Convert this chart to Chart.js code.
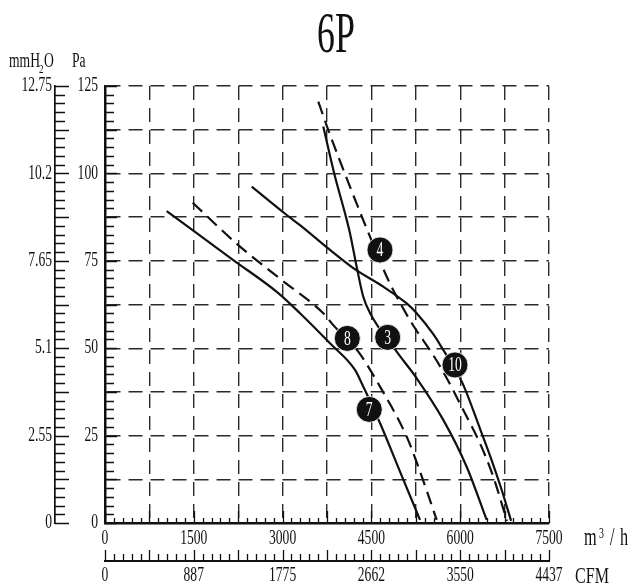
<!DOCTYPE html>
<html>
<head>
<meta charset="utf-8">
<title>6P</title>
<script src="https://cdn.jsdelivr.net/npm/chart.js@4.4.1/dist/chart.umd.min.js"></script>
<style>
    html, body { margin: 0; padding: 0; background: #fff; }
    #wrap { width: 631px; height: 588px; }
</style>
</head>
<body>
<div id="wrap"><canvas id="fanChart" width="631" height="588"></canvas></div>
<script>
var chartTitle = '6P';

// tick labels of the four rulers
var flowTicks = [0, 1500, 3000, 4500, 6000, 7500];        // m3/h
var cfmTicks = ['0', '887', '1775', '2662', '3550', '4437'];
var paTicks = [0, 25, 50, 75, 100, 125];
var mmTicks = ['0', '2.55', '5.1', '7.65', '10.2', '12.75'];

// fan curves (x = m3/h, y = Pa)
var curve7X = [1042, 2167, 2917, 3294, 3800, 4223, 4336, 4645, 4983, 5321];
var curve7Y = [89.2, 75.2, 65.9, 60.0, 51.4, 43.8, 40.0, 28.6, 14.7, 0.9];

var curve8X = [1481, 2251, 2984, 3687, 3856, 4278, 4645, 5096, 5292, 5603];
var curve8Y = [91.6, 79.5, 69.5, 60.0, 56.6, 49.0, 39.0, 24.7, 16.1, 0.9];

var curve3X = [3687, 3885, 4054, 4138, 4251, 4363, 4476, 4927, 5265, 5714, 6109, 6447];
var curve3Y = [113.4, 99.1, 88.6, 82.9, 73.3, 64.7, 60.1, 49.0, 41.4, 29.5, 16.1, 0.9];

var curve4X = [3603, 3772, 4138, 4476, 4785, 4983, 5207, 5545, 5771, 6052, 6334, 6559, 6790];
var curve4Y = [120.5, 112.4, 96.2, 81.9, 69.5, 63.0, 56.5, 48.0, 41.5, 32.3, 22.8, 13.2, 0.6];

var curve10X = [2478, 3069, 3294, 3800, 4194, 4700, 5096, 5265, 5545, 5714, 5912, 6052, 6334, 6520, 6700, 6860];
var curve10Y = [96.2, 88.1, 85.2, 78.1, 72.9, 67.6, 62.8, 60.0, 54.0, 49.5, 44.0, 39.5, 27.0, 18.5, 9.5, 0.6];

// numbered markers
var markerNames = ['4', '8', '3', '10', '7'];
var markerX = [4645, 4093, 4775, 5912, 4464];
var markerY = [78.1, 52.8, 53.1, 45.2, 32.5];

var FONT = '"Liberation Serif", "Times New Roman", serif';

function toPoints(xs, ys) {
    let pts = new Array(xs.length);
    for (var i = 0; i < xs.length; i++)
        pts[i] = { x: xs[i], y: ys[i] };
    return pts;
}

// narrow serif text, like the original drawing
function condText(ctx, text, x, y, size, align, baseline, sx, color) {
    ctx.save();
    ctx.translate(x, y);
    ctx.scale(sx, 1);
    ctx.font = size + 'px ' + FONT;
    ctx.textAlign = align;
    ctx.textBaseline = baseline;
    ctx.fillStyle = color || '#111';
    ctx.fillText(text, 0, 0);
    ctx.restore();
}

function curveSet(xs, ys, dashed) {
    return {
        type: 'line',
        data: toPoints(xs, ys),
        borderColor: '#111',
        borderWidth: 2.2,
        borderDash: dashed ? [13, 7] : [],
        pointRadius: 0,
        fill: false,
        cubicInterpolationMode: 'monotone',
        order: 1
    };
}

var rulerPlugin = {
    id: 'rulers',
    afterDraw: function (chart) {
        var ctx = chart.ctx;
        var s = chart.scales;
        var i, p, len;
        ctx.save();
        ctx.strokeStyle = '#111';
        ctx.lineWidth = 1.3;
        ctx.beginPath();
        // Pa ruler, ticks pointing into the plot
        for (i = 0; i <= 50; i++) {
            p = Math.round(s.y.getPixelForValue(i * 2.5)) + 0.5;
            len = (i % 5 == 0) ? 12 : 9;
            ctx.moveTo(s.y.right, p);
            ctx.lineTo(s.y.right + len, p);
        }
        // mmH2O ruler
        for (i = 0; i <= 50; i++) {
            p = Math.round(s.y2.getPixelForValue(i * 0.255)) + 0.5;
            len = (i % 5 == 0) ? 14 : 10;
            ctx.moveTo(s.y2.right, p);
            ctx.lineTo(s.y2.right + len, p);
        }
        // m3/h ruler
        for (i = 0; i <= 50; i++) {
            p = Math.round(s.x.getPixelForValue(i * 150)) + 0.5;
            len = (i % 5 == 0) ? 12 : 5;
            ctx.moveTo(p, s.x.top);
            ctx.lineTo(p, s.x.top - len);
        }
        // CFM ruler
        for (i = 0; i <= 50; i++) {
            p = Math.round(s.x2.getPixelForValue(i * 88.74)) + 0.5;
            len = (i % 5 == 0) ? 11 : 7;
            ctx.moveTo(p, s.x2.top);
            ctx.lineTo(p, s.x2.top - len);
        }
        ctx.stroke();
        ctx.restore();

        // tick labels
        for (i = 0; i < paTicks.length; i++)
            condText(ctx, String(paTicks[i]), s.y.right - 7, s.y.getPixelForValue(paTicks[i]), 20, 'right', 'middle', 0.68);
        for (i = 0; i < mmTicks.length; i++)
            condText(ctx, mmTicks[i], s.y2.right - 3, s.y2.getPixelForValue(parseFloat(mmTicks[i])), 20, 'right', 'middle', 0.68);
        for (i = 0; i < flowTicks.length; i++)
            condText(ctx, String(flowTicks[i]), s.x.getPixelForValue(flowTicks[i]), s.x.top + 16, 20, 'center', 'middle', 0.68);
        for (i = 0; i < cfmTicks.length; i++)
            condText(ctx, cfmTicks[i], s.x2.getPixelForValue(parseFloat(cfmTicks[i])), s.x2.top + 15, 20, 'center', 'middle', 0.68);

        // title and units
        condText(ctx, chartTitle, 336, 52, 56, 'center', 'alphabetic', 0.64);
        condText(ctx, 'mmH', 9, 67, 20, 'left', 'alphabetic', 0.68);
        condText(ctx, '2', 39, 73, 13, 'left', 'alphabetic', 0.7);
        condText(ctx, 'O', 44, 67, 20, 'left', 'alphabetic', 0.68);
        condText(ctx, 'Pa', 72, 67, 20, 'left', 'alphabetic', 0.68);
        condText(ctx, 'm', 584, 545, 25, 'left', 'alphabetic', 0.65);
        condText(ctx, '3', 599, 538, 14, 'left', 'alphabetic', 0.7);
        condText(ctx, '/', 610, 545, 25, 'left', 'alphabetic', 0.65);
        condText(ctx, 'h', 620, 545, 25, 'left', 'alphabetic', 0.65);
        condText(ctx, 'CFM', 575, 583, 23, 'left', 'alphabetic', 0.7);
    },
    afterDatasetsDraw: function (chart) {
        var meta = chart.getDatasetMeta(0);
        for (var i = 0; i < meta.data.length; i++) {
            var el = meta.data[i];
            condText(chart.ctx, markerNames[i], el.x, el.y + 1, 20, 'center', 'middle', 0.68, '#fff');
        }
    }
};

function createChart() {
    var ctx = document.getElementById('fanChart').getContext('2d');
    return new Chart(ctx, {
        data: {
            datasets: [{
                type: 'scatter',
                data: toPoints(markerX, markerY),
                pointRadius: 13,
                pointHoverRadius: 13,
                pointBackgroundColor: '#111',
                pointBorderColor: '#fff',
                pointBorderWidth: 0.8,
                showLine: false,
                order: 0
            },
                curveSet(curve7X, curve7Y, false),
                curveSet(curve8X, curve8Y, true),
                curveSet(curve3X, curve3Y, false),
                curveSet(curve4X, curve4Y, true),
                curveSet(curve10X, curve10Y, false)
            ]
        },
        options: {
            responsive: false,
            animation: false,
            devicePixelRatio: 1,
            layout: {
                padding: { left: 5, right: 82, top: 86, bottom: 0 }
            },
            plugins: {
                legend: { display: false },
                tooltip: { enabled: false },
                title: { display: false }
            },
            scales: {
                x: {
                    type: 'linear',
                    position: 'bottom',
                    min: 0,
                    max: 7500,
                    weight: 0,
                    ticks: { display: false, stepSize: 750 },
                    grid: { color: '#2a2a2a', lineWidth: 1.4, drawTicks: false },
                    border: { display: true, color: '#111', width: 2.5, dash: [14, 8] },
                    afterFit: function (scale) { scale.height = 38; }
                },
                x2: {
                    type: 'linear',
                    position: 'bottom',
                    min: 0,
                    max: 4437,
                    weight: 1,
                    ticks: { display: false },
                    grid: { display: false, drawTicks: false },
                    border: { display: true, color: '#111', width: 2 },
                    afterFit: function (scale) { scale.height = 27; }
                },
                y: {
                    type: 'linear',
                    position: 'left',
                    min: 0,
                    max: 125,
                    weight: 0,
                    ticks: { display: false, stepSize: 12.5 },
                    grid: { color: '#2a2a2a', lineWidth: 1.4, drawTicks: false },
                    border: { display: true, color: '#111', width: 2.5, dash: [14, 8] },
                    afterFit: function (scale) { scale.width = 50; }
                },
                y2: {
                    type: 'linear',
                    position: 'left',
                    min: 0,
                    max: 12.75,
                    weight: 1,
                    ticks: { display: false },
                    grid: { display: false, drawTicks: false },
                    border: { display: true, color: '#111', width: 1.7 },
                    afterFit: function (scale) { scale.width = 50; }
                }
            }
        },
        plugins: [rulerPlugin]
    });
}

var fanChart = createChart();
</script>
</body>
</html>
